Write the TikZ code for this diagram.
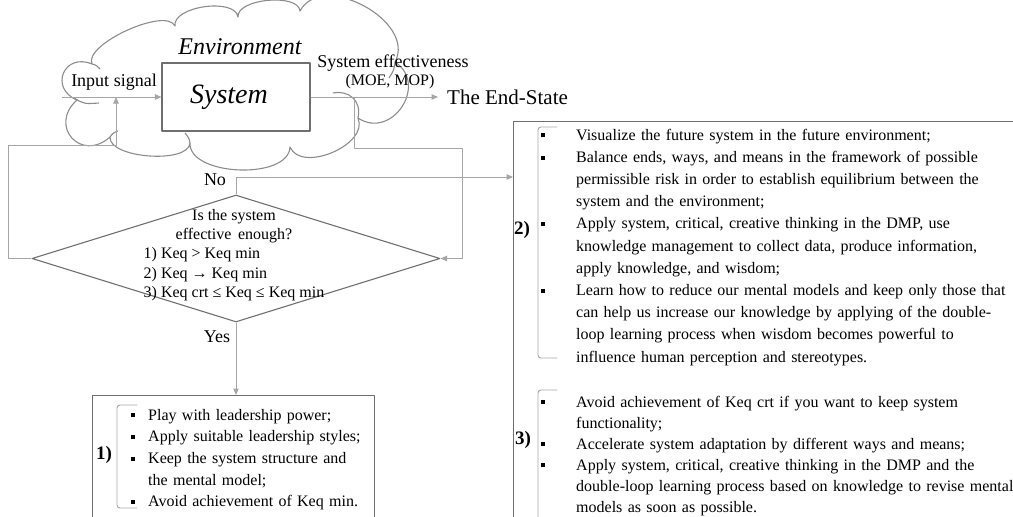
\documentclass[tikz,border=0pt]{standalone}
\usepackage{fontspec}
\setmainfont{Liberation Serif}
\usetikzlibrary{arrows.meta,shapes.geometric,positioning}
\definecolor{cloudgray}{HTML}{8C8C8C}
\definecolor{linegray}{HTML}{A6A6A6}
\definecolor{boxgray}{HTML}{6F6F6F}
\newlength{\bulind}
\newcommand{\sqbul}{\rule[2.6pt]{4pt}{4pt}}
\newcommand{\nl}{\hfil\break}
\newcommand{\bitem}[1]{\noindent\hangindent=\bulind\hangafter=1\makebox[\bulind][l]{\sqbul}#1\par}

\begin{document}
\begin{tikzpicture}[x=1pt, y=1pt, line join=round, >={Triangle[width=5.5pt,length=6.5pt]},
  conn/.style={draw=linegray, line width=1pt},
  puff/.style={bend left=90, looseness=#1},
  cloudline/.style={draw=cloudgray, line width=1.1pt},
  frame/.style={draw=boxgray, line width=1.1pt},
  brack/.style={draw=linegray, line width=0.9pt, rounded corners=3pt},
  lbl/.style={inner sep=0pt, font=\fontsize{18}{20}\selectfont},
  numlbl/.style={inner sep=0pt, font=\fontsize{19}{20}\selectfont\bfseries},
  bodytext/.style={anchor=base west, inner sep=0pt, text width=#1}]

\useasboundingbox (0,0) rectangle (1013,-517);
\clip (0,0) rectangle (1013,-517);

% environment cloud
\draw[cloudline] (92,-64) to[puff=0.6] (175,-26) to[puff=0.8] (238,-17) to[puff=0.75] (300,-11)
  to[puff=1.1] (395,-62) to[puff=1.55] (358,-118) to[puff=1.0] (290,-147) to[puff=0.85] (190,-143)
  to[puff=0.68] (110,-137) to[puff=2.0] (77,-100) to[puff=2.0] (92,-64);
\draw[cloudline] (74,-98) .. controls (84,-104) .. (99,-103);
\draw[cloudline] (110,-137) .. controls (113,-133) .. (118,-131);
\draw[cloudline] (190,-143) .. controls (189,-138) .. (185,-133);
\draw[cloudline] (358,-118) .. controls (362,-100) and (348,-90) .. (333,-93);
\draw[cloudline] (395,-62) .. controls (394,-70) .. (389,-78);
\draw[cloudline] (92,-64) .. controls (96,-65) .. (100,-69);

% system and labels
\node[frame, fill=white, minimum width=148pt, minimum height=68pt, font=\fontsize{28}{30}\selectfont\itshape] (sys) at (236,-97) {System\hspace*{14pt}};
\node[lbl, font=\fontsize{24}{26}\selectfont\itshape] (env) at (240,-47) {Environment};
\node[lbl] (insig) at (114,-82) {Input signal};
\node[lbl] (eff) at (393,-63) {System effectiveness};
\node[lbl, font=\fontsize{16}{18}\selectfont] (moe) at (390,-82) {(MOE, MOP)};
\node[lbl, font=\fontsize{21}{23}\selectfont, anchor=west, inner xsep=9pt] (endst) at (438,-97) {The End-State};

% decision
\node[diamond, draw=boxgray, line width=1.1pt, minimum width=408pt, minimum height=127pt, inner sep=0pt] (dia) at (236,-258.5) {};
\node[inner sep=0pt, font=\fontsize{16}{19.3}\selectfont] (quest) at (234,-255) {\begin{tabular}{@{}l@{}}\multicolumn{1}{@{}c@{}}{Is the system}\\ \multicolumn{1}{@{}c@{}}{effective\, enough?}\\ 1) Keq > Keq min\\ 2) Keq → Keq min\\ 3) Keq crt ≤ Keq ≤ Keq min\end{tabular}};
\node[lbl] (no) at (215,-180) {No};
\node[lbl] (yes) at (217,-337) {Yes};

% boxes
\node[frame, anchor=north west, minimum width=282pt, minimum height=200pt, inner sep=0pt] (box1) at (92,-395) {};
\node[frame, anchor=north west, minimum width=520pt, minimum height=450pt, inner sep=0pt] (box2) at (513,-121) {};

\coordinate (inL) at (62,-97);
\coordinate (fbL) at (8,-145);
\coordinate (fbJ) at (116,-145);
\coordinate (brA) at (354,-97);
\coordinate (brR) at (462,-148);
\coordinate (noin) at (513,-177);

% connectors
\draw[conn, ->] (inL) -- (sys.west);
\draw[conn, ->] (dia.west) -| (fbL) -- (fbJ) -- (fbJ |- sys.west);
\draw[conn, ->] (sys.east) -- (endst.west);
\draw[conn, ->] (brA) |- (brR) |- (dia.east);
\draw[conn, ->] (dia.north) |- (noin);
\draw[conn, ->] (dia.south) -- (dia.south |- box1.north);

% brackets
\draw[brack] (137,-405) -- (117,-405) -- (117,-508) -- (137,-508);
\draw[brack] (557,-127) -- (538,-127) -- (538,-358) -- (557,-358);
\draw[brack] (557,-390) -- (538,-390) -- (538,-530);
\node[numlbl] (n1) at (104,-455) {1)};
\node[numlbl] (n2) at (522,-230) {2)};
\node[numlbl] (n3) at (523,-440) {3)};

% lists
\node[bodytext=240pt, font=\fontsize{16}{21.7}\selectfont] (list1) at (131,-420) {\setlength{\bulind}{17pt}\hyphenpenalty=10000%
\bitem{Play with leadership power;}%
\bitem{Apply suitable leadership styles;}%
\bitem{Keep the system structure and\nl the mental model;}%
\bitem{Avoid achievement of Keq min.}};
\node[bodytext=490pt, font=\fontsize{16}{22.2}\selectfont] (list2) at (541,-140) {\setlength{\bulind}{35pt}\hyphenpenalty=10000%
\bitem{Visualize the future system in the future environment;}%
\bitem{Balance ends, ways, and means in the framework of possible\nl permissible risk in order to establish equilibrium between the\nl system and the environment;}%
\bitem{Apply system, critical, creative thinking in the DMP, use\nl knowledge management to collect data, produce information,\nl apply knowledge, and wisdom;}%
\bitem{Learn how to reduce our mental models and keep only those that\nl can help us increase our knowledge by applying of the double-\nl loop learning process when wisdom becomes powerful to\nl influence human perception and stereotypes.}};
\node[bodytext=490pt, font=\fontsize{16}{21}\selectfont] (list3) at (541,-407) {\setlength{\bulind}{35pt}\hyphenpenalty=10000%
\bitem{Avoid achievement of Keq crt if you want to keep system\nl functionality;}%
\bitem{Accelerate system adaptation by different ways and means;}%
\bitem{Apply system, critical, creative thinking in the DMP and the\nl double-loop learning process based on knowledge to revise mental\nl models as soon as possible.}};
\end{tikzpicture}
\end{document}
